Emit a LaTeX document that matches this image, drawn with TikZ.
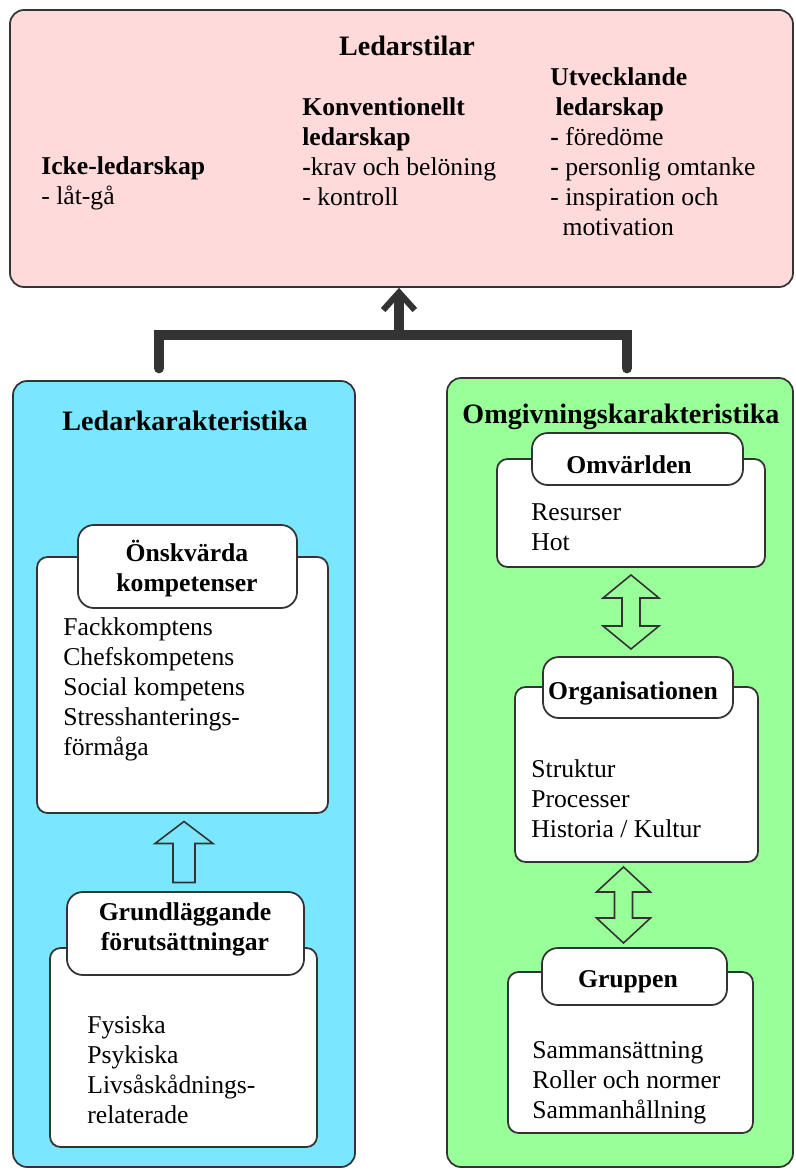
\documentclass[tikz,border=0pt]{standalone}
\usepackage{fontspec}
\setmainfont{Liberation Serif}
\usetikzlibrary{arrows.meta,fit}

\definecolor{pinkfill}{HTML}{FFDADA}
\definecolor{bluefill}{HTML}{7AE6FF}
\definecolor{greenfill}{HTML}{99FF99}
\definecolor{edge}{HTML}{333333}

\begin{document}
\begin{tikzpicture}[x=0.02cm,y=-0.02cm,
    panel/.style={draw=edge,line width=1pt,rounded corners=8pt,inner sep=0pt},
    card/.style={draw=edge,line width=1pt,fill=white,rounded corners=6pt,inner sep=0pt},
    tab/.style={draw=edge,line width=1pt,fill=white,rounded corners=9pt,inner sep=0pt},
    txt/.style={anchor=base west,align=left,inner sep=0pt,font=\fontsize{14.6}{17}\selectfont},
    head/.style={anchor=base,align=center,inner sep=0pt,font=\fontsize{14.6}{17}\selectfont\bfseries},
    big/.style={anchor=base,inner sep=0pt,font=\fontsize{16}{19}\selectfont\bfseries},
    hollow/.style={draw=edge,line width=0.9pt,line join=miter},
    bar/.style={draw=edge,line width=6pt}]
    \useasboundingbox (0,0) rectangle (795,1170);

    % frames
    \node[panel,fill=pinkfill,fit={(10,10) (793,287)}] (stil) {};
    \node[panel,fill=bluefill,fit={(13,381) (355,1167)}] (ledare) {};
    \node[panel,fill=greenfill,fit={(447,378) (793,1167)}] (omgiv) {};

    % cards with tabs
    \node[card,fit={(37,557) (328,813)}] (kompbody) {};
    \node[tab,fit={(78,525) (297,608)}] (komp) {};
    \node[card,fit={(50,948) (317,1147)}] (grundbody) {};
    \node[tab,fit={(67,892) (304,975)}] (grund) {};
    \node[card,fit={(497,459) (765,567)}] (varldbody) {};
    \node[tab,fit={(532,433) (743,485)}] (varld) {};
    \node[card,fit={(515,687) (758,862)}] (orgbody) {};
    \node[tab,fit={(543,657) (733,718)}] (org) {};
    \node[card,fit={(508,972) (753,1133)}] (gruppbody) {};
    \node[tab,fit={(542,948) (727,1005)}] (grupp) {};

    % ledarstilar (base = last line)
    \node[big] (stiltitle) at (407,55) {Ledarstilar};
    \node[txt] (icke) at (41,204) {\textbf{Icke-ledarskap}\\- låt-gå};
    \node[txt] (konv) at (302,205) {\textbf{Konventionellt}\\\textbf{ledarskap}\\\textbf{-}krav och belöning\\- kontroll};
    \node[txt] (utv) at (550,235) {\textbf{Utvecklande}\\\hspace*{3pt}\textbf{ledarskap}\\\textbf{-} föredöme\\\textbf{-} personlig omtanke\\- inspiration och\\\hspace*{7pt}motivation};

    % ledarkarakteristika
    \node[big] (ledaretitle) at (185,430) {Ledarkarakteristika};
    \node[head] (komptitle) at (187,591) {Önskvärda\\kompetenser};
    \node[txt] (komptext) at (63,755) {Fackkomptens\\Chefskompetens\\Social kompetens\\Stresshanterings-\\förmåga};
    \node[head] (grundtitle) at (185,950) {Grundläggande\\förutsättningar};
    \node[txt] (grundtext) at (87,1123) {Fysiska\\Psykiska\\Livsåskådnings-\\relaterade};

    % omgivningskarakteristika
    \node[big] (omgivtitle) at (621,423) {Omgivningskarakteristika};
    \node[head] (varldtitle) at (629,473) {Omvärlden};
    \node[txt] (varldtext) at (531,550) {Resurser\\Hot};
    \node[head] (orgtitle) at (633,699) {Organisationen};
    \node[txt] (orgtext) at (531,837) {Struktur\\Processer\\Historia / Kultur};
    \node[head] (grupptitle) at (628,987) {Gruppen};
    \node[txt] (grupptext) at (532,1118) {Sammansättning\\Roller och normer\\Sammanhållning};

    % bracket up to ledarstilar
    \coordinate (j) at (399,335);
    \draw[bar,line cap=round] ([shift={(-25,-12)}]ledare.north) |- (j) -| ([shift={(7,-9)}]omgiv.north);
    \draw[bar,-{Straight Barb[length=10pt,width=18pt,line width=3.5pt 0]}] (j) -- (j |- stil.south);

    % hollow arrows
    \path (kompbody.south) -- (grund.north) coordinate[midway] (u1);
    \begin{scope}[shift={(u1)}]
        \draw[hollow] (-11,30) -- (-11,-9) -- (-29,-9) -- (0,-31) -- (29,-9) -- (11,-9) -- (11,30) -- cycle;
    \end{scope}
    \path (varldbody.south) -- (varldbody.south |- org.north) coordinate[midway] (u2);
    \begin{scope}[shift={(u2)}]
        \draw[hollow] (-9,-14) -- (-28,-14) -- (0,-37) -- (28,-14) -- (9,-14) -- (9,14) -- (28,14) -- (0,37) -- (-28,14) -- (-9,14) -- cycle;
    \end{scope}
    \path (orgbody.south) -- (grupp.north) coordinate[midway] (u3);
    \begin{scope}[shift={(u3)},xshift=-0.24cm]
        \draw[hollow] (-9,-13) -- (-27,-13) -- (0,-38) -- (27,-13) -- (9,-13) -- (9,13) -- (27,13) -- (0,38) -- (-27,13) -- (-9,13) -- cycle;
    \end{scope}
\end{tikzpicture}
\end{document}
